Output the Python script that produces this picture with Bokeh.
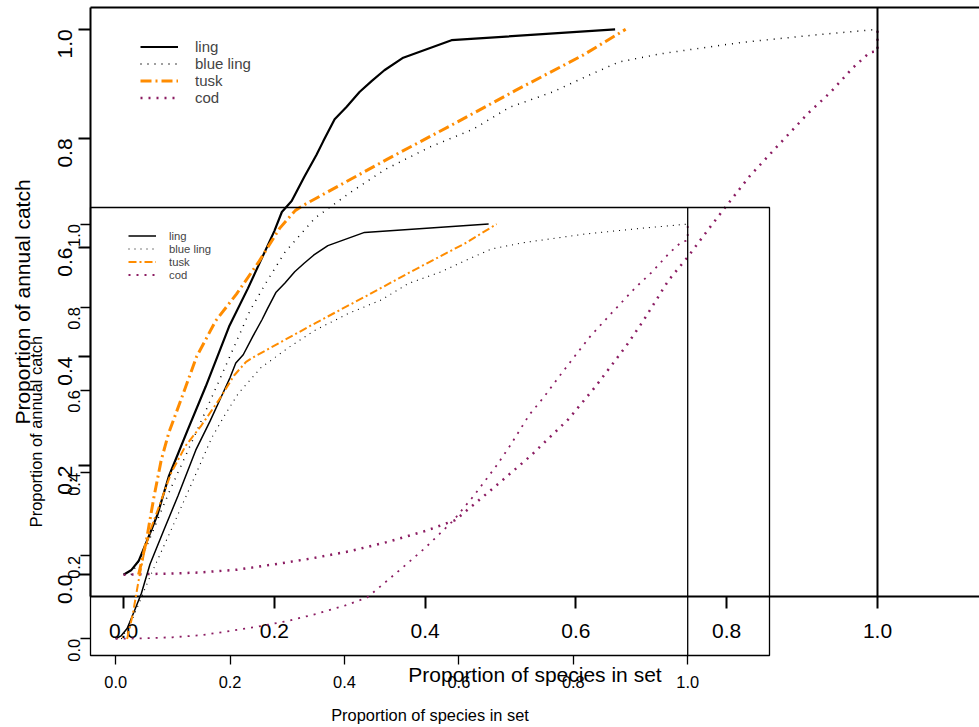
import math
from bokeh.plotting import figure
from bokeh.models import (LinearAxis, FixedTicker, PrintfTickFormatter, Span,
                          Legend, LegendItem, GridBox)
from bokeh.embed import file_html
from bokeh.resources import INLINE

# ---------------- data (same curves drawn in both panels) ----------------
species = ["ling", "blue ling", "tusk", "cod"]
tick_values = [0.0, 0.2, 0.4, 0.6, 0.8, 1.0]
x_title = "Proportion of species in set"
y_title = "Proportion of annual catch"
ref_line_x = 1.0

ling_x = [0.0, 0.01, 0.02, 0.032, 0.045, 0.06, 0.085, 0.109, 0.14, 0.165, 0.185, 0.2, 0.21, 0.223,
          0.24, 0.256, 0.265, 0.28, 0.296, 0.313, 0.329, 0.346, 0.371, 0.435, 0.652]
ling_y = [0.0, 0.008, 0.025, 0.065, 0.11, 0.18, 0.265, 0.345, 0.455, 0.525, 0.585, 0.63, 0.665, 0.685,
          0.73, 0.77, 0.795, 0.835, 0.858, 0.885, 0.905, 0.925, 0.948, 0.98, 1.0]

blue_ling_x = [0.01, 0.03, 0.06, 0.098, 0.133, 0.168, 0.191, 0.214, 0.254, 0.302, 0.347, 0.406,
               0.464, 0.512, 0.569, 0.616, 0.657, 0.712, 0.732, 0.82, 0.92, 1.0]
blue_ling_y = [0.0, 0.05, 0.15, 0.266, 0.375, 0.485, 0.54, 0.591, 0.654, 0.702, 0.743, 0.784,
               0.817, 0.857, 0.885, 0.915, 0.94, 0.955, 0.959, 0.976, 0.99, 1.0]

tusk_x = [0.02, 0.03, 0.04, 0.05, 0.06, 0.076, 0.097, 0.122, 0.15, 0.18, 0.207, 0.228, 0.242,
          0.35, 0.44, 0.52, 0.61, 0.666]
tusk_y = [0.0, 0.06, 0.14, 0.21, 0.26, 0.32, 0.40, 0.465, 0.515, 0.575, 0.635, 0.668, 0.68,
          0.762, 0.828, 0.888, 0.953, 1.0]

cod_x = [0.0, 0.06, 0.1, 0.15, 0.2, 0.25, 0.3, 0.35, 0.4, 0.44, 0.47, 0.5, 0.54, 0.59, 0.626,
         0.667, 0.69, 0.723, 0.748, 0.775, 0.8, 0.83, 0.86, 0.908, 0.938, 0.967, 0.99, 1.0, 1.0]
cod_y = [0.0, 0.002, 0.004, 0.009, 0.019, 0.03, 0.043, 0.06, 0.08, 0.1, 0.135, 0.17, 0.218, 0.285,
         0.345, 0.42, 0.467, 0.54, 0.582, 0.632, 0.677, 0.73, 0.775, 0.846, 0.885, 0.929, 0.958, 0.96, 1.0]

series = [(ling_x, ling_y), (blue_ling_x, blue_ling_y), (tusk_x, tusk_y), (cod_x, cod_y)]

# ---------------- styling ----------------
FONT = "Liberation Sans"
BLACK = "#000000"
TUSK = "#FF8C00"
COD = "#8B1C62"
COLORS = [BLACK, BLACK, TUSK, COD]


def base_fig(width, height, xr, yr, mbl, mbr, mbt, mbb):
    p = figure(width=width, height=height, x_range=xr, y_range=yr,
               output_backend="svg", toolbar_location=None,
               min_border_left=mbl, min_border_right=mbr,
               min_border_top=mbt, min_border_bottom=mbb)
    p.frame_align = False
    p.background_fill_color = None
    p.border_fill_color = None
    p.xgrid.visible = False
    p.ygrid.visible = False
    return p


def style_axis(ax, fs, tick_out, tick_lw, lab_standoff, axlab_standoff, line_color, line_w, vertical):
    ax.ticker = FixedTicker(ticks=tick_values)
    ax.formatter = PrintfTickFormatter(format="%.1f")
    ax.minor_tick_line_color = None
    ax.major_tick_in = 0
    ax.major_tick_out = tick_out
    ax.major_tick_line_color = BLACK
    ax.major_tick_line_width = tick_lw
    ax.major_label_standoff = lab_standoff
    ax.major_label_text_font = FONT
    ax.major_label_text_font_size = fs
    ax.major_label_text_color = BLACK
    ax.axis_label_text_font = FONT
    ax.axis_label_text_font_size = fs
    ax.axis_label_text_font_style = "normal"
    ax.axis_label_text_color = BLACK
    ax.axis_label_standoff = axlab_standoff
    ax.axis_line_color = line_color
    ax.axis_line_width = line_w
    if vertical:
        ax.major_label_orientation = math.pi / 2


def add_series(p, widths, dashes):
    rs = []
    for (xs, ys), w, d, c in zip(series, widths, dashes, COLORS):
        rs.append(p.line(xs, ys, line_color=c, line_width=w, line_dash=d))
    return rs


def add_legend(p, rs, fs, gw, rowh, standoff, loc):
    items = [LegendItem(label=s, renderers=[r]) for s, r in zip(species, rs)]
    lg = Legend(items=items, location=loc, border_line_color=None,
                background_fill_color=None, background_fill_alpha=0,
                label_text_font=FONT, label_text_font_size=fs,
                glyph_width=gw, glyph_height=rowh, label_height=rowh,
                label_standoff=standoff, spacing=0, padding=0, margin=0)
    p.add_layout(lg)


# ---------------- outer (large) panel ----------------
outer = base_fig(979, 696, (-0.0438, 1.1353), (-0.04, 1.04), 90, 0, 7, 100)
outer.outline_line_color = None
style_axis(outer.xaxis[0], "21px", 12, 2, 15, 22, BLACK, 2, False)
style_axis(outer.yaxis[0], "21px", 12, 2, 13, 15, BLACK, 2, True)
outer.xaxis[0].axis_label = x_title
outer.yaxis[0].axis_label = y_title
top_axis = LinearAxis(ticker=FixedTicker(ticks=[]), major_tick_out=0, major_tick_in=0,
                      minor_tick_line_color=None, major_label_text_font_size="0px",
                      major_label_standoff=0, axis_label_standoff=0,
                      axis_line_color=BLACK, axis_line_width=2)
outer.add_layout(top_axis, "above")
outer.add_layout(Span(location=ref_line_x, dimension="height", line_color=BLACK, line_width=2))
o_rs = add_series(outer, [2.2, 1.5, 3.0, 2.5], ["solid", "1 6", "11 4 2 4", "2 6"])
add_legend(outer, o_rs, "15px", 38, 17, 17, (50, 490))

# ---------------- inner (small) panel ----------------
inner = base_fig(774, 727, (-0.044, 1.143), (-0.04, 1.04), 90, 5, 207, 72)
inner.outline_line_color = BLACK
inner.outline_line_width = 1.3
style_axis(inner.xaxis[0], "16.4px", 9, 1.3, 11, 15, None, 1, False)
style_axis(inner.yaxis[0], "16.4px", 10, 1.3, 6, 15, None, 1, True)
inner.xaxis[0].axis_label = x_title
inner.yaxis[0].axis_label = y_title
inner.add_layout(Span(location=ref_line_x, dimension="height", line_color=BLACK, line_width=1.3))
i_rs = add_series(inner, [1.5, 1.1, 2.0, 1.8], ["solid", "1 5", "8 3 2 3", "2 6"])
add_legend(inner, i_rs, "11.3px", 28, 13, 13, (38, 374))

layout = GridBox(children=[(outer, 0, 0), (inner, 0, 0)])

open("out.html", "w").write(file_html(layout, INLINE))
